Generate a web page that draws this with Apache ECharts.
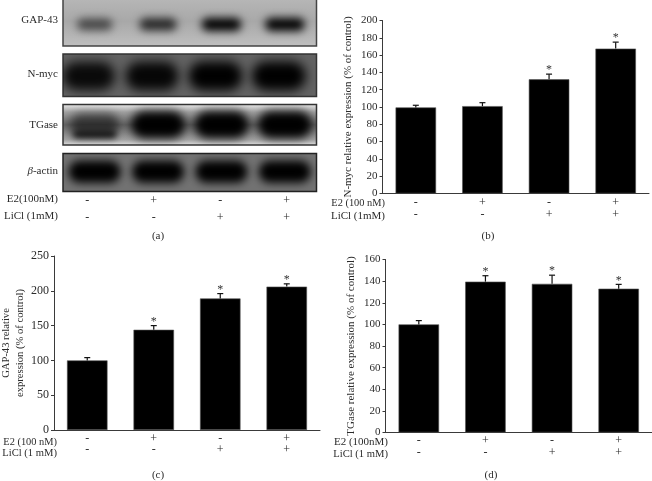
<!DOCTYPE html>
<html><head><meta charset="utf-8">
<style>html,body{margin:0;padding:0;background:#fff}#c{width:652px;height:481px}</style>
<script src="https://cdn.jsdelivr.net/npm/echarts@6/dist/echarts.min.js"></script>
</head><body><div id="c"></div>
<script>
// Data
const e2Row = ['-', '+', '-', '+'];
const liclRow = ['-', '-', '+', '+'];
const nmycValues = [99.5, 101, 132, 167.5];
const nmycErrTop = [102, 105, 138, 175];
const nmycStar = [false, false, true, true];
const gapValues = [100, 144, 189, 206];
const gapErrTop = [104, 150, 196, 210];
const gapStar = [false, true, true, true];
const tgaseValues = [100, 139.5, 137.5, 133];
const tgaseErrTop = [103.5, 145, 145.5, 137];
const tgaseStar = [false, true, true, true];
// blot band darkness per lane
const blotGap = [0.6, 0.78, 1, 1];
const blotMyc = [0.9, 0.94, 1, 1];
const blotTgaseMain = [0, 1, 1, 1];
const blotTgaseFaintHaze = [0.55, 0, 0, 0];
const blotTgaseFaintBand = [0.95, 0, 0, 0];
const blotActin = [1, 1, 1, 1];

const FONT = '"Liberation Serif", serif';
const TXT = '#2b2b2b';
const lanes = ['1', '2', '3', '4'];
const OFF = 2000;

const grid = [], xAxis = [], yAxis = [], series = [];

function addBlot(left, top, width, height, bg, borderColor, layers) {
  const i = grid.length;
  grid.push({ left, top, width, height, outerBoundsMode: 'none', show: true, backgroundColor: bg, borderColor, borderWidth: 1.5, z: 1 });
  xAxis.push({ gridIndex: i, type: 'category', data: lanes, show: false });
  yAxis.push({ gridIndex: i, type: 'value', min: 0, max: 1, show: false });
  layers.forEach(l => {
    series.push({
      type: 'custom', xAxisIndex: i, yAxisIndex: i, clip: true, silent: true, z: 3,
      data: l.values.map((v, k) => [k, v]),
      encode: { x: 0, y: 1 },
      renderItem(params, api) {
        const v = api.value(1);
        if (!v) return null;
        const c = api.coord([api.value(0), 1 - l.cy]);
        const w = l.w * (0.72 + 0.28 * v), h = l.h * (0.72 + 0.28 * v);
        // only the soft shadow of an off-canvas shape falls inside the blot
        return {
          type: 'rect', culling: false,
          shape: { x: c[0] + (l.dx || 0) - w / 2 - OFF, y: c[1] - h / 2, width: w, height: h, r: Math.min(w, h) / 2 },
          style: { fill: '#000', shadowBlur: l.blur, shadowOffsetX: OFF, shadowColor: 'rgba(0,0,0,' + v + ')' }
        };
      }
    });
  });
}

function addBars(left, right, top, bottom, max, interval, values, errTop, star, name, nameGap, rowGap, tickSize, titleSize) {
  const i = grid.length;
  grid.push({ left, top, width: right - left, height: bottom - top, outerBoundsMode: 'none' });
  xAxis.push({
    gridIndex: i, type: 'category', data: e2Row.map((e, k) => e + '\n' + liclRow[k]),
    axisLine: { lineStyle: { color: '#3a3a3a', width: 1 } },
    axisTick: { alignWithLabel: true, length: 3, lineStyle: { color: '#3a3a3a' } },
    axisLabel: { color: TXT, fontFamily: FONT, fontSize: 12, lineHeight: rowGap, margin: 3, interval: 0 }
  });
  yAxis.push({
    gridIndex: i, type: 'value', min: 0, max, interval,
    name, nameLocation: 'middle', nameGap, nameRotate: 90,
    nameTextStyle: { color: TXT, fontFamily: FONT, fontSize: titleSize, lineHeight: 14 },
    axisLine: { show: true, lineStyle: { color: '#3a3a3a', width: 1 } },
    axisTick: { show: true, length: 3, lineStyle: { color: '#3a3a3a' } },
    axisLabel: { color: TXT, fontFamily: FONT, fontSize: tickSize, margin: 5 },
    splitLine: { show: false }
  });
  series.push({
    type: 'bar', xAxisIndex: i, yAxisIndex: i, data: values, barWidth: 40.5,
    itemStyle: { color: '#000', borderColor: '#555', borderWidth: 0.6 }, silent: true, z: 3
  });
  series.push({
    type: 'custom', xAxisIndex: i, yAxisIndex: i, silent: true, z: 4, clip: false,
    data: values.map((v, k) => [k, v, errTop[k], star[k] ? 1 : 0]),
    encode: { x: 0, y: 2 },
    renderItem(params, api) {
      const base = api.coord([api.value(0), api.value(1)]);
      const top = api.coord([api.value(0), api.value(2)]);
      const kids = [
        { type: 'line', shape: { x1: top[0], y1: base[1], x2: top[0], y2: top[1] }, style: { stroke: '#111', lineWidth: 1.2 } },
        { type: 'line', shape: { x1: top[0] - 3, y1: top[1], x2: top[0] + 3, y2: top[1] }, style: { stroke: '#111', lineWidth: 1.2 } }
      ];
      if (api.value(3)) kids.push({
        type: 'text', x: top[0], y: top[1] - 4,
        style: { text: '*', fill: '#333', font: '12px ' + FONT, align: 'center', verticalAlign: 'middle' }
      });
      return { type: 'group', children: kids };
    }
  });
}

// Blots (panel a)
addBlot(63, -3, 253.5, 49, {
  type: 'linear', x: 0, y: 0, x2: 0, y2: 1,
  colorStops: [{ offset: 0, color: '#b8b8b8' }, { offset: .5, color: '#a8a8a8' }, { offset: 1, color: '#c0c0c0' }]
}, '#444', [{ values: blotGap, cy: 0.56, w: 40, h: 13, blur: 9 }]);
addBlot(63, 54, 253.5, 42.5, '#626262', '#333', [
  { values: blotMyc, cy: 0.52, w: 54, h: 29, blur: 11, dx: -6 }
]);
addBlot(63, 104.5, 253.5, 40.5, {
  type: 'linear', x: 0, y: 0, x2: 0, y2: 1,
  colorStops: [{ offset: 0, color: '#f0f0f0' }, { offset: .2, color: '#a0a0a0' }, { offset: .5, color: '#666' }, { offset: .85, color: '#a0a0a0' }, { offset: 1, color: '#e4e4e4' }]
}, '#333', [
  { values: blotTgaseFaintHaze, cy: 0.5, w: 56, h: 26, blur: 10 },
  { values: blotTgaseFaintBand, cy: 0.74, w: 44, h: 6, blur: 6 },
  { values: blotTgaseMain, cy: 0.5, w: 54, h: 27, blur: 10 }
]);
addBlot(63, 153.5, 253.5, 38, '#727272', '#222', [{ values: blotActin, cy: 0.48, w: 52, h: 22, blur: 8 }]);

// +/- table under panel a
{
  const i = grid.length;
  grid.push({ left: 54, width: 266, top: 190, height: 1, outerBoundsMode: 'none' });
  xAxis.push({
    gridIndex: i, type: 'category', data: e2Row.map((e, k) => e + '\n' + liclRow[k]),
    axisLine: { show: false }, axisTick: { show: false },
    axisLabel: { color: TXT, fontFamily: FONT, fontSize: 12, lineHeight: 17, margin: 1, interval: 0 }
  });
  yAxis.push({ gridIndex: i, type: 'value', show: false });
  series.push({ type: 'bar', xAxisIndex: i, yAxisIndex: i, data: [] });
}

// Panels b, c, d
addBars(382.5, 649, 20.5, 193.5, 200, 20, nmycValues, nmycErrTop, nmycStar,
  'N-myc relative expression (% of control)', 27, 12.5, 11, 11);
addBars(54, 320, 256, 430, 250, 50, gapValues, gapErrTop, gapStar,
  'GAP-43 relative\nexpression (% of control)', 27, 11.5, 12, 10.6);
addBars(385.5, 652, 259.5, 432.5, 160, 20, tgaseValues, tgaseErrTop, tgaseStar,
  'TGase relative expression (% of control)', 27, 11.5, 11, 11);

function txt(x, y, text, align, size, extra) {
  const s = size || 11;
  return {
    type: 'text', x, y, silent: true,
    style: Object.assign({ text, fill: TXT, font: s + 'px ' + FONT, align: align || 'right', verticalAlign: 'middle' }, extra || {})
  };
}
const graphic = [
  txt(58, 20, 'GAP-43'), txt(58, 74, 'N-myc'), txt(58, 125, 'TGase'),
  txt(58, 171, '{i|β}-actin', 'right', 11, { rich: { i: { fontStyle: 'italic', fontFamily: FONT, fontSize: 11, fill: TXT } } }),
  txt(58, 199, 'E2(100nM)'), txt(58, 216, 'LiCl (1mM)'),
  txt(385, 203, 'E2 (100 nM)', 'right', 10.4), txt(385, 216, 'LiCl (1mM)'),
  txt(57, 442, 'E2 (100 nM)', 'right', 10.4), txt(57, 453.5, 'LiCl (1 mM)', 'right', 10.6),
  txt(388, 442.5, 'E2 (100nM)'), txt(388, 454, 'LiCl (1 mM)', 'right', 10.6),
  txt(158, 236, '(a)', 'center'), txt(488, 236, '(b)', 'center'),
  txt(158, 475, '(c)', 'center'), txt(491, 475, '(d)', 'center')
];

const chart = echarts.init(document.getElementById('c'), null, { renderer: 'canvas' });
chart.setOption({ animation: false, backgroundColor: '#fff', grid, xAxis, yAxis, series, graphic: { elements: graphic } });
</script></body></html>
